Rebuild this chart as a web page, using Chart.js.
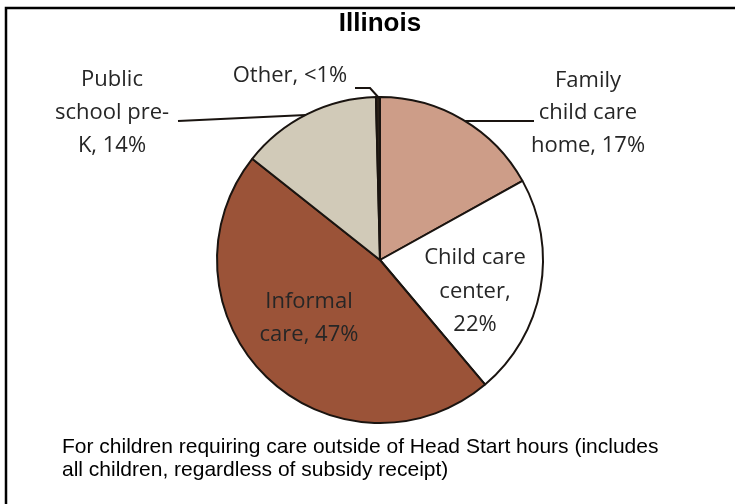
<!DOCTYPE html>
<html>
<head>
<meta charset="utf-8">
<script src="https://cdn.jsdelivr.net/npm/chart.js@4"></script>
<style>
  html, body { margin: 0; padding: 0; background: #fff; }
  #wrap { width: 735px; height: 504px; }
</style>
</head>
<body>
<div id="wrap"><canvas id="pie" width="735" height="504"></canvas></div>
<script>
const chartTitle = 'Illinois';
const categories = ['Family child care home', 'Child care center', 'Informal care', 'Public school pre-K', 'Other'];
const shares = [17, 22, 47, 14, 0.4];
const shareLabels = ['17%', '22%', '47%', '14%', '<1%'];
const noteLines = [
  'For children requiring care outside of Head Start hours (includes',
  'all children, regardless of subsidy receipt)'
];

const sliceColors = ['#CD9D88', '#FFFFFF', '#9B5338', '#D1CAB8', '#2a2018'];
const textColor = '#262626';
const labelFont = '22px "Open Sans", "Noto Sans", sans-serif';

// label text lines for each slice, laid out relative to the pie centre
const labelSpec = [
  { lines: ['Family', 'child care', 'home, 17%'], dx: 208, dy: [-179, -147, -114],
    leader: [[85, -139], [154, -139]] },
  { lines: ['Child care', 'center,', '22%'], dx: 95, dy: [-2, 32, 65] },
  { lines: ['Informal', 'care, 47%'], dx: -71, dy: [42, 75] },
  { lines: ['Public', 'school pre-', 'K, 14%'], dx: -268, dy: [-180, -147, -114],
    leader: [[-74, -145], [-202, -139]] },
  { lines: ['Other, <1%'], dx: -90, dy: [-184],
    leader: [[-1, -162], [-10, -172], [-25, -172]] }
];

const decor = {
  id: 'decor',
  beforeDraw(chart) {
    const ctx = chart.ctx;
    ctx.save();
    ctx.fillStyle = '#fff';
    ctx.fillRect(0, 0, chart.width, chart.height);
    ctx.strokeStyle = '#000';
    ctx.lineWidth = 2.5;
    ctx.strokeRect(6, 8, chart.width + 10, chart.height + 10);
    ctx.restore();
  },
  afterDatasetsDraw(chart) {
    const ctx = chart.ctx;
    const arc = chart.getDatasetMeta(0).data[0];
    const cx = arc.x, cy = arc.y;
    ctx.save();
    // title
    ctx.fillStyle = '#000';
    ctx.font = 'bold 26px "Liberation Sans", Arial, sans-serif';
    ctx.textAlign = 'center';
    ctx.textBaseline = 'middle';
    ctx.fillText(chartTitle, cx, 24);
    // leader lines
    ctx.strokeStyle = '#1a1410';
    ctx.lineWidth = 2;
    labelSpec.forEach(s => {
      if (!s.leader) return;
      ctx.beginPath();
      s.leader.forEach((p, i) => {
        if (i === 0) ctx.moveTo(cx + p[0], cy + p[1]);
        else ctx.lineTo(cx + p[0], cy + p[1]);
      });
      ctx.stroke();
    });
    // slice labels
    ctx.fillStyle = textColor;
    ctx.font = labelFont;
    labelSpec.forEach(s => {
      s.lines.forEach((t, i) => ctx.fillText(t, cx + s.dx, cy + s.dy[i]));
    });
    // note under the pie
    ctx.fillStyle = '#000';
    ctx.font = '21px "Liberation Sans", Arial, sans-serif';
    ctx.textAlign = 'left';
    noteLines.forEach((t, i) => ctx.fillText(t, 62, 447 + i * 23));
    ctx.restore();
  }
};

new Chart(document.getElementById('pie'), {
  type: 'pie',
  data: {
    labels: categories.map((c, i) => c + ', ' + shareLabels[i]),
    datasets: [{
      data: shares,
      backgroundColor: sliceColors,
      borderColor: '#1a1410',
      borderWidth: 2
    }]
  },
  options: {
    responsive: false,
    animation: false,
    layout: { padding: { top: 96, bottom: 80, left: 216, right: 191 } },
    plugins: {
      legend: { display: false },
      tooltip: { enabled: false },
      title: { display: false }
    }
  },
  plugins: [decor]
});
</script>
</body>
</html>
